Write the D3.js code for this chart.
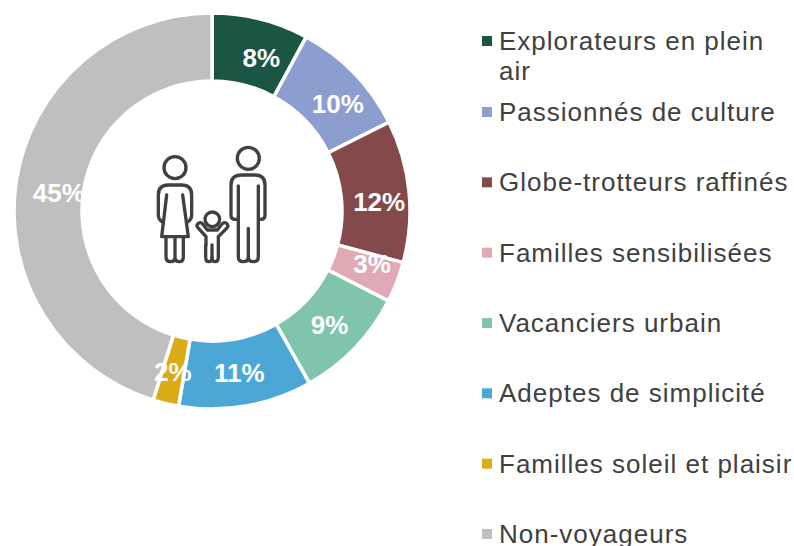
<!DOCTYPE html>
<html>
<head>
<meta charset="utf-8">
<script src="https://cdn.jsdelivr.net/npm/d3@7"></script>
<style>
  html, body { margin: 0; padding: 0; background: #fff; overflow: hidden; }
</style>
</head>
<body>
<div id="chart"></div>
<script>
const categories = ["Explorateurs en plein air", "Passionnés de culture", "Globe-trotteurs raffinés",
  "Familles sensibilisées", "Vacanciers urbain", "Adeptes de simplicité", "Familles soleil et plaisir", "Non-voyageurs"];
// labels show them rounded
const values = [7.9, 9.7, 11.6, 3.3, 9.3, 10.9, 2.1, 45.2];
const colors = ["#1b5544", "#8b9ecf", "#84494b", "#e0aab5", "#80c4ac", "#4ba8d6", "#dcab18", "#bfbfbf"];

const width = 794, height = 546;
const cx = 212, cy = 211, outer = 198, inner = 130;

const svg = d3.select("#chart")
  .append("svg")
  .attr("width", width)
  .attr("height", height)
  .style("display", "block");

const pie = d3.pie().value(d => d).sort(null);
const arc = d3.arc().innerRadius(inner).outerRadius(outer);
const labelArc = d3.arc().innerRadius(164).outerRadius(164);

const g = svg.append("g").attr("transform", `translate(${cx},${cy})`);

// Slices
g.selectAll("path")
  .data(pie(values))
  .join("path")
    .attr("d", arc)
    .attr("fill", (d, i) => colors[i])
    .attr("stroke", "#fff")
    .attr("stroke-width", 3.5);

// Labels were dragged by hand in the original, so each has a nudge
const nudgeX = [9, 8, 4, 7, -1, -1, -1, 9];
const nudgeY = [6, 7, 7, -6, 0, 0, 1, 6];

g.selectAll("text")
  .data(pie(values))
  .join("text")
    .attr("x", (d, i) => labelArc.centroid(d)[0] + nudgeX[i])
    .attr("y", (d, i) => labelArc.centroid(d)[1] + nudgeY[i])
    .attr("dy", "0.36em")
    .attr("text-anchor", "middle")
    .attr("font-family", "'Liberation Sans', Arial, sans-serif")
    .attr("font-weight", "bold")
    .attr("font-size", 26)
    .attr("fill", "#fff")
    .text(d => d3.format(".0f")(d.data) + "%");

// Family icon, drawn in zoomed coordinates
const icon = svg.append("g")
  .attr("transform", "translate(130,130) scale(0.3333)")
  .attr("fill", "none")
  .attr("stroke", "#404040")
  .attr("stroke-width", 10)
  .attr("stroke-linecap", "round")
  .attr("stroke-linejoin", "round");

[[355, 85, 33], [135, 113, 33], [247, 268, 22]].forEach(c => {
  icon.append("circle").attr("cx", c[0]).attr("cy", c[1]).attr("r", c[2]);
});

[
  // man
  "M325,168 V380 Q325,395 340,395 Q355,395 355,380 V295 M355,380 Q355,395 370,395 Q385,395 385,380 V168",
  "M322,268 H315 Q303,268 303,255 V165 Q303,135 335,135 H375 Q405,135 405,165 V255 Q405,268 392,268 H387",
  // woman
  "M100,278 Q85,270 85,255 V195 Q85,165 115,165 H155 Q185,165 185,195 V255 Q185,270 170,278",
  "M110,195 L95,320 H175 L158,195",
  "M108,320 V380 Q108,395 122,395 Q135,395 135,380 V320 M135,380 Q135,395 148,395 Q160,395 160,380 V320",
  // child
  "M228,345 V320 L203,292 Q198,285 205,280 Q212,275 218,282 L232,300 H262 L276,282 Q282,275 290,280 Q297,287 291,294 L265,320 V380 Q265,395 255,395 Q246,395 246,380 V345",
  "M246,380 Q246,395 236,395 Q227,395 227,380 V345"
].forEach(d => icon.append("path").attr("d", d));

// Legend
const legendLines = [["Explorateurs en plein", "air"], ["Passionnés de culture"], ["Globe-trotteurs raffinés"],
  ["Familles sensibilisées"], ["Vacanciers urbain"], ["Adeptes de simplicité"], ["Familles soleil et plaisir"], ["Non-voyageurs"]];
const legendY = d3.scalePoint().domain(d3.range(1, 8)).range([112, 534]);

const legend = svg.selectAll("g.legend")
  .data(categories)
  .join("g")
    .attr("class", "legend")
    .attr("transform", (d, i) => `translate(482,${i === 0 ? 41 : legendY(i)})`);

legend.append("rect")
  .attr("x", 0)
  .attr("y", -5)
  .attr("width", 10)
  .attr("height", 10)
  .attr("fill", (d, i) => colors[i]);

legend.each(function(d, i) {
  const t = d3.select(this).append("text")
    .attr("font-family", "'Liberation Sans', Arial, sans-serif")
    .attr("font-size", 26)
    .attr("letter-spacing", 1)
    .attr("fill", "#404040");
  legendLines[i].forEach((line, j) => {
    t.append("tspan")
      .attr("x", 17)
      .attr("y", 9 + j * 30)
      .text(line);
  });
});
</script>
</body>
</html>
